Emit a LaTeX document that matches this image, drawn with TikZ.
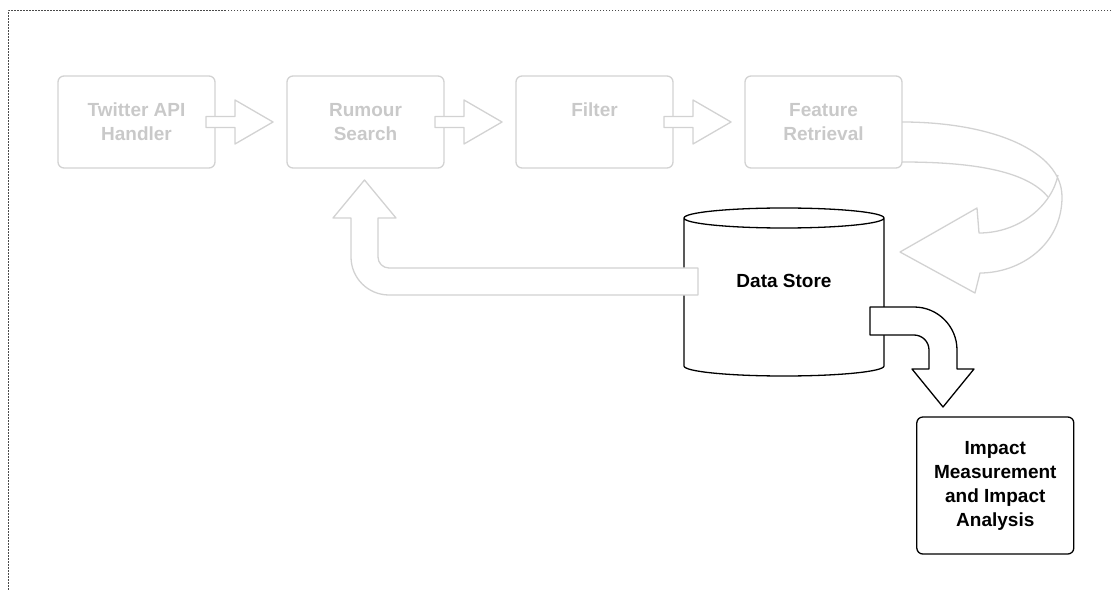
\documentclass[tikz,border=0pt]{standalone}
\usepackage{fontspec}
\setmainfont{Liberation Sans}
\usetikzlibrary{positioning,calc}
\definecolor{LightLine}{HTML}{D2D2D2}
\definecolor{LightText}{HTML}{C9C9C9}
\definecolor{Frame}{HTML}{4A4A4A}

% hollow block arrow between two boxes of the pipeline
\newcommand{\flowarrow}[2]{%
  \draw[garr] ([shift={(-9,5.5)}]#1.east) -- ([shift={(-52,5.5)}]#2.west)
    -- ([shift={(-52,22)}]#2.west) -- ([shift={(-14,0)}]#2.west)
    -- ([shift={(-52,-22)}]#2.west) -- ([shift={(-52,-5.5)}]#2.west)
    -- ([shift={(-9,-5.5)}]#1.east) -- cycle;}

\begin{document}
\begin{tikzpicture}[x=1pt,y=1pt,
    gbox/.style={draw=LightLine,line width=1.3pt,rounded corners=6pt,
      minimum width=157pt,minimum height=92pt,inner sep=0pt,outer sep=0pt,
      align=center,font=\fontsize{19}{24}\selectfont\bfseries,text=LightText},
    bbox/.style={draw=black,line width=1.3pt,rounded corners=6pt,
      minimum width=157pt,minimum height=137pt,inner sep=0pt,outer sep=0pt,
      align=center,font=\fontsize{19}{24}\selectfont\bfseries},
    store/.style={minimum width=200pt,minimum height=148pt,inner sep=0pt,outer sep=0pt},
    garr/.style={draw=LightLine,line width=1.3pt,fill=white,line join=round},
    barr/.style={draw=black,line width=1.3pt,fill=white,line join=round},
    frame/.style={draw=Frame,line width=1.3pt,dash pattern=on 1.5pt off 1.5pt}
  ]
  \useasboundingbox (0,0) rectangle (1111,590);

  % pipeline
  \node[gbox] at (136.5,468) (twitter) {Twitter API\\Handler};
  \node[gbox,right=72pt of twitter] (rumour) {Rumour\\Search};
  \node[gbox,right=72pt of rumour] (filter) {Filter\\\mbox{}};
  \node[gbox,right=72pt of filter] (feature) {Feature\\Retrieval};
  \foreach \a/\b in {twitter/rumour,rumour/filter,filter/feature}
    \flowarrow{\a}{\b};

  % data store
  \node[store] (store) at (784,298) {};
  \node[font=\fontsize{19}{24}\selectfont\bfseries] (storelabel)
    at ([yshift=11]store.center) {Data Store};
  \draw[line width=1.3pt] (store.north west) -- (store.south west)
    arc[start angle=180,end angle=360,x radius=100,y radius=10]
    -- (store.north east)
    arc[start angle=0,end angle=180,x radius=100,y radius=10]
    arc[start angle=180,end angle=360,x radius=100,y radius=10];

  \node[bbox] (impact) at (995.3,104.5) {Impact\\Measurement\\and Impact\\Analysis};

  % back to rumour search
  \draw[garr] ([shift={(14,24)}]store.west) -- ++(-309,0)
    arc[start angle=270,end angle=180,radius=11] -- ++(0,39) -- ++(18,0)
    -- ++(-31.5,38) -- ++(-31.5,-38) -- ++(18,0) -- ++(0,-39)
    arc[start angle=180,end angle=270,radius=38] -- ++(309,0) -- cycle;

  % into impact analysis
  \draw[barr] ([shift={(-14,-15)}]store.east) -- ++(44,0)
    arc[start angle=90,end angle=0,radius=43] -- ++(0,-19) -- ++(17,0)
    -- ++(-31,-38) -- ++(-31,38) -- ++(17,0) -- ++(0,19)
    arc[start angle=0,end angle=90,radius=15] -- ++(-44,0) -- cycle;

  % feature retrieval into the store
  \draw[garr,fill=none] (feature.east) .. controls +(88,0) and +(0,47) .. ++(160,-75)
    .. controls +(0,-48) and +(40,0) .. ++(-82,-76) -- ++(-5,-20)
    -- ([shift={(16,40)}]store.east) -- ++(77,44) -- ++(2,-25)
    .. controls +(41,0) and +(-6,-30) .. ++(79,58);
  \draw[garr,fill=none] ([yshift=-40]feature.east) .. controls +(68,0) and +(-22,27) .. ++(146,-35);

  \draw[frame] (1111,579.5) -- (8.5,579.5) -- (8.5,0);
\end{tikzpicture}
\end{document}
